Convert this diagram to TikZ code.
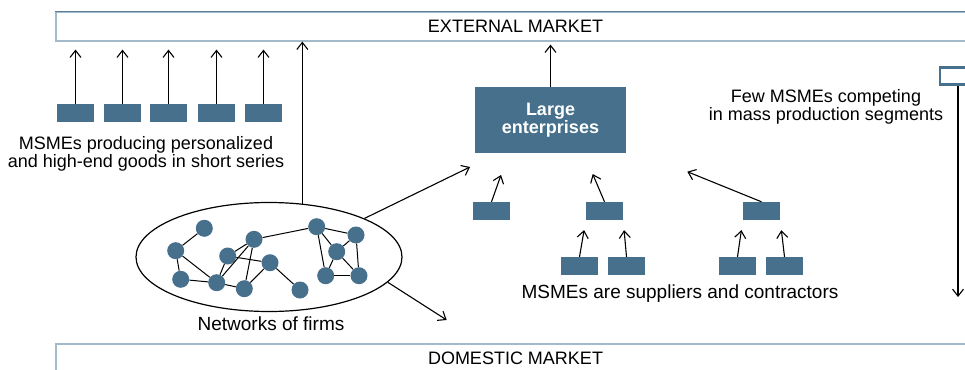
\documentclass[tikz,border=0pt]{standalone}
\usepackage{fontspec}
\setmainfont{Liberation Sans}
\usetikzlibrary{arrows.meta,shapes.geometric}
\definecolor{boxc}{HTML}{46708C}
\definecolor{bandtop}{HTML}{5A7F9C}
\definecolor{bandlight}{HTML}{A3BACB}
\begin{document}
\begin{tikzpicture}[x=1pt,y=-1pt,
  font=\fontsize{19}{18.2}\selectfont,
  firm/.style={rectangle,fill=boxc,minimum width=37pt,minimum height=18pt,inner sep=0pt},
  dot/.style={circle,fill=boxc,minimum size=17pt,inner sep=0pt},
  band/.style={rectangle,draw=bandlight,line width=1.2pt,fill=white,minimum width=919pt,minimum height=29pt,inner sep=0pt,font=\fontsize{18}{18}\selectfont},
  arr/.style={line width=1.1pt,-{Straight Barb[length=7pt,width=11pt,line width=1.1pt]}},
  edge/.style={line width=1pt},
  lbl/.style={align=center,inner sep=0pt},
  small/.style={font=\fontsize{18}{18}\selectfont}]
\useasboundingbox (0,0) rectangle (965,369);
\clip (0,0) rectangle (965,369);
% bands
\node[band] (ext) at (515.5,26.5) {EXTERNAL MARKET};
\draw[bandtop,line width=1.2pt] (ext.north west) -- (ext.north east);
\node[band] (dom) at (515.5,358.5) {DOMESTIC MARKET};
% left MSMEs
\node[firm] (m1) at (75.5,113) {};
\node[firm] (m2) at (122.5,113) {};
\node[firm] (m3) at (168.5,113) {};
\node[firm] (m4) at (216.5,113) {};
\node[firm] (m5) at (263.5,113) {};
\foreach \i in {1,...,5}{\draw[arr,shorten >=8pt] (m\i.north) -- (m\i.north |- ext.south);}
\node[lbl,small] (t1) at (146,153.5) {MSMEs producing personalized\\and high-end goods in short series};
% large enterprises
\node[rectangle,fill=boxc,minimum width=151pt,minimum height=66pt,inner sep=0pt,text=white,font=\fontsize{18}{17.7}\selectfont\bfseries,align=center] (large) at (550.5,120) {Large\\enterprises};
\draw[arr,shorten >=3pt] (large.north) -- (large.north |- ext.south);
% few MSMEs
\node[lbl,small] (t2) at (826,107) {Few MSMEs competing\\in mass production segments};
\node[rectangle,draw=boxc,line width=2.2pt,fill=white,minimum width=36pt,minimum height=17pt,inner sep=0pt] (rb) at (958,76) {};
\coordinate (rbend) at (958,297);
\draw[arr] (rb.south) -- (rbend);
% network
\node[ellipse,draw,line width=1.2pt,minimum width=266pt,minimum height=109pt,inner sep=0pt] (net) at (269,257) {};
\node[lbl] (t3) at (271,324) {Networks of firms};
\node[dot] (n1) at (204.3,228.3) {};
\node[dot] (n2) at (175.7,250.7) {};
\node[dot] (n3) at (180.7,279.3) {};
\node[dot] (n4) at (227.7,256) {};
\node[dot] (n5) at (254,239.3) {};
\node[dot] (n6) at (216.7,282.7) {};
\node[dot] (n7) at (244.3,288.7) {};
\node[dot] (n8) at (270,262.7) {};
\node[dot] (n9) at (300,290) {};
\node[dot] (n10) at (316.7,226.7) {};
\node[dot] (n11) at (356,235) {};
\node[dot] (n12) at (336.7,251.7) {};
\node[dot] (n13) at (325.7,275.7) {};
\node[dot] (n14) at (359,275.7) {};
\foreach \a/\b in {1/2,2/3,2/6,3/6,6/7,4/5,4/8,4/6,5/6,5/7,7/8,8/9,5/10,10/11,10/12,10/13,11/12,11/14,12/13,12/14,13/14}
  {\draw[edge] (n\a) -- (n\b);}
\draw[arr] (net.58) -- (net.58 |- ext.south);
\coordinate (netup) at (470,167);
\draw[arr] (net.22.6) -- (netup);
\coordinate (netdown) at (446.7,320);
\draw[arr] (net.-12.3) -- (netdown);
% suppliers
\node[firm] (sa) at (491.5,211) {};
\node[firm] (sb) at (604.5,211) {};
\node[firm] (sc) at (761.5,211) {};
\node[firm] (sb1) at (579.5,266) {};
\node[firm] (sb2) at (626.5,266) {};
\node[firm] (sc1) at (737.5,266) {};
\node[firm] (sc2) at (784.5,266) {};
\coordinate (ua) at (501,175);
\coordinate (ub) at (592.7,174);
\coordinate (uc) at (687.3,171.7);
\draw[arr] (sa.north) -- (ua);
\draw[arr] (sb.north) -- (ub);
\draw[arr] (sc.north) -- (uc);
\draw[arr,shorten >=10pt] (sb1.north) -- (sb.south west);
\draw[arr,shorten >=10pt] (sb2.north) -- (sb.south east);
\draw[arr,shorten >=10pt] (sc1.north) -- (sc.south west);
\draw[arr,shorten >=10pt] (sc2.north) -- (sc.south east);
\node[lbl] (t4) at (680,294) {MSMEs are suppliers and contractors};
\end{tikzpicture}
\end{document}
